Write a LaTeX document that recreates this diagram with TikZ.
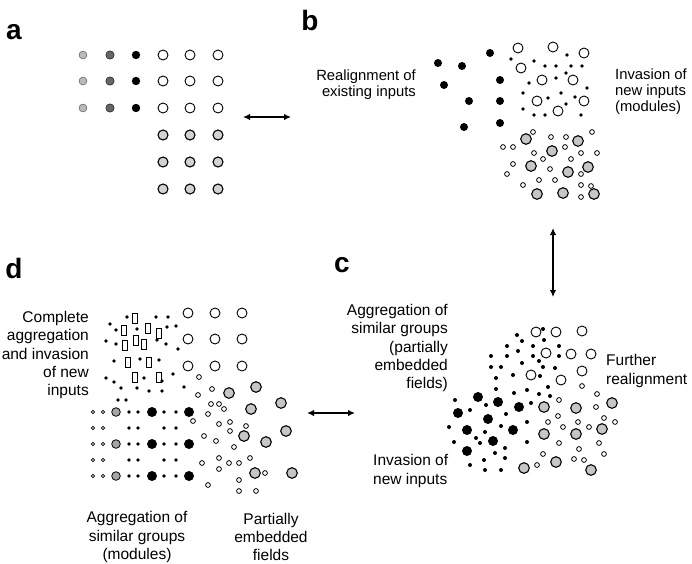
\documentclass[tikz,border=0pt]{standalone}
\usepackage{fontspec}
\setmainfont{Liberation Sans}
\usetikzlibrary{arrows.meta}

\tikzset{
  panel/.style={font=\fontsize{28}{28}\selectfont\bfseries, inner sep=0pt},
  caption/.style={font=\fontsize{15.5}{18.2}\selectfont, inner sep=0pt},
  captionb/.style={font=\fontsize{14.8}{16}\selectfont, inner sep=0pt},
  link/.style={{Latex[length=7pt,width=6.5pt]}-{Latex[length=7pt,width=6.5pt]}, line width=1.6pt},
  opendisc/.style={draw=black, line width=0.9pt, fill=white},
  greydisc/.style={draw=black, line width=1.1pt, fill=gray!45},
  tinyring/.style={draw=black, line width=0.8pt, fill=white},
}

\begin{document}
\begin{tikzpicture}[x=1pt, y=-1pt]
    \useasboundingbox (0,0) rectangle (692,563);

    % Panel letters
    \node[panel] (la) at (14,32) {a};
    \node[panel] (lb) at (310,20) {b};
    \node[panel] (lc) at (342,265) {c};
    \node[panel] (ld) at (14,268) {d};

    % Panel a: regular grid of inputs
    \foreach \y in {55,81,108} {
        \filldraw[fill=gray!55, draw=gray!55!black] (83,\y) circle (4pt);
        \filldraw[fill=gray!80!black, draw=black] (110,\y) circle (4.2pt);
        \fill (136,\y) circle (4.2pt);
        \foreach \x in {163,190,218}
            \draw[opendisc] (\x,\y) circle (5pt);
    }
    \foreach \y in {135,162,189}
        \foreach \x in {163,190,218}
            \draw[greydisc, fill=gray!35] (\x,\y) circle (5pt);

    % Panel b: realignment and invasion
    \foreach \x/\y in {490/53, 438/63, 462/66, 444/85, 500/80, 469/101, 500/101, 464/127, 500/123}
        \fill (\x,\y) circle (4pt);
    \foreach \x/\y in {518/48, 553/47, 584/53, 521/68, 542/80, 573/80, 537/101, 584/101, 558/111}
        \draw[opendisc] (\x,\y) circle (5pt);
    \foreach \x/\y in {511/59, 534/61, 567/55, 545/66, 556/66, 571/66, 582/66, 566/73, 529/83, 556/78,
                       587/88, 523/93, 548/98, 561/93, 575/97, 523/109, 534/115, 545/115, 566/104, 581/115}
        \fill (\x,\y) circle (1.9pt);
    \foreach \x/\y in {526/139, 578/141, 552/151, 531/166, 588/167, 568/172, 537/194, 563/193, 594/194}
        \draw[greydisc] (\x,\y) circle (5.3pt);
    \foreach \x/\y in {533/132, 551/137, 566/137, 592/132, 503/147, 513/147, 534/153, 565/147, 543/159,
                       581/153, 597/153, 571/159, 513/164, 507/174, 550/169, 581/174, 539/180, 555/180,
                       523/185, 581/185, 591/186, 581/197}
        \draw[tinyring] (\x,\y) circle (2.4pt);

    \node[captionb, align=right, anchor=east] (realign) at (416,85) {Realignment of\\existing inputs};
    \node[captionb, align=left, anchor=west] (invade) at (615,92) {Invasion of\\new inputs\\(modules)};

    % Panel c: partially embedded fields
    \foreach \x/\y in {536/332, 556/332, 582/331, 546/353, 571/354, 591/354, 531/375, 561/380, 582/371}
        \draw[opendisc] (\x,\y) circle (5pt);
    \foreach \x/\y in {517/335, 543/329, 522/341, 544/340, 507/346, 518/351, 533/346, 559/346, 491/356,
                       507/356, 522/363, 533/356, 559/356, 539/361, 491/367, 501/367, 543/367, 555/368,
                       496/378, 513/375, 540/376, 496/389, 514/393, 527/390, 539/394, 548/387, 550/396,
                       455/400, 486/405, 470/410, 506/414, 531/403, 449/427, 485/432, 476/438, 480/443,
                       501/426, 527/422, 454/442, 495/453, 505/448, 527/442, 470/465, 484/460, 485/470,
                       501/470, 505/458}
        \fill (\x,\y) circle (2pt);
    \foreach \x/\y in {478/397, 498/402, 519/407, 458/413, 488/419, 513/430, 467/430, 493/441, 467/451}
        \fill (\x,\y) circle (5pt);
    \foreach \x/\y in {544/407, 576/408, 612/403, 544/434, 576/434, 602/429, 524/468, 556/462, 591/470}
        \draw[greydisc] (\x,\y) circle (5.3pt);
    \foreach \x/\y in {559/400, 597/394, 582/386, 596/407, 558/416, 548/422, 578/422, 563/427, 589/427,
                       604/418, 615/422, 559/443, 599/443, 579/449, 543/454, 604/454, 574/459, 584/460, 537/465}
        \draw[tinyring] (\x,\y) circle (2.4pt);

    \node[caption, align=right, anchor=east] (aggc) at (448,348) {Aggregation of\\similar groups\\(partially\\embedded\\fields)};
    \node[caption, align=left, anchor=west] (further) at (606,371) {Further\\realignment};
    \node[caption, align=left, anchor=west] (invc) at (373,471) {Invasion of\\new inputs};

    % Panel d: modules and invasion
    \foreach \x/\y in {135/318, 124/330, 148/328, 159/333, 125/345, 136/340, 144/344, 128/362, 149/362, 135/377, 159/377}
        \draw[line width=0.8pt, shift={(\x,\y)}] (-2.3,-5) rectangle (2.3,5);
    \foreach \x/\y in {127/317, 156/317, 168/317, 110/324, 116/330, 137/329, 167/327, 176/326, 106/341,
                       116/344, 157/340, 166/344, 178/349, 114/361, 140/359, 159/360, 106/378, 114/382,
                       144/378, 162/381, 173/374, 121/388, 137/388, 149/391, 162/391, 184/387, 118/400, 126/400}
        \fill (\x,\y) circle (1.8pt);
    \foreach \y in {313,339,366}
        \foreach \x in {188,215,242}
            \draw[opendisc] (\x,\y) circle (5pt);
    \foreach \y in {412,428,444,460,476} {
        \foreach \x in {93,103}
            \filldraw[fill=gray!60, draw=black, line width=0.5pt] (\x,\y) circle (1.8pt);
        \foreach \x in {129,138,164,176}
            \fill (\x,\y) circle (1.9pt);
    }
    \foreach \y in {412,444,476} {
        \filldraw[fill=gray!70, draw=black, line width=0.8pt] (116,\y) circle (4.3pt);
        \fill (152,\y) circle (5pt);
        \fill (189,\y) circle (5pt);
    }
    \foreach \x/\y in {199/377, 198/395, 212/389, 211/404, 219/404, 224/409, 208/414, 193/421, 219/424,
                       230/422, 246/426, 230/431, 204/436, 216/441, 234/447, 219/458, 202/463, 229/463,
                       239/463, 250/458, 219/469, 265/473, 239/480, 208/485, 239/491, 256/491}
        \draw[tinyring] (\x,\y) circle (2.4pt);
    \foreach \x/\y in {229/393, 256/387, 251/409, 281/403, 244/436, 266/442, 286/431, 255/473, 292/473}
        \draw[greydisc] (\x,\y) circle (5.3pt);

    \node[caption, align=right, anchor=east] (complete) at (89,355) {Complete\\aggregation\\and invasion\\of new\\inputs};
    \node[caption, align=center] (aggd) at (137,537) {Aggregation of\\similar groups\\(modules)};
    \node[caption, align=center] (partial) at (271,537) {Partially\\embedded\\fields};

    % Arrows between stages
    \coordinate (aEnd) at (243,117);
    \coordinate (bStart) at (291,117);
    \coordinate (bEnd) at (553,228);
    \coordinate (cStart) at (553,297);
    \coordinate (dEnd) at (307,413);
    \coordinate (cEnd) at (355,413);
    \draw[link] (aEnd) -- (bStart);
    \draw[link] (bEnd) -- (cStart);
    \draw[link] (dEnd) -- (cEnd);

\end{tikzpicture}
\end{document}
